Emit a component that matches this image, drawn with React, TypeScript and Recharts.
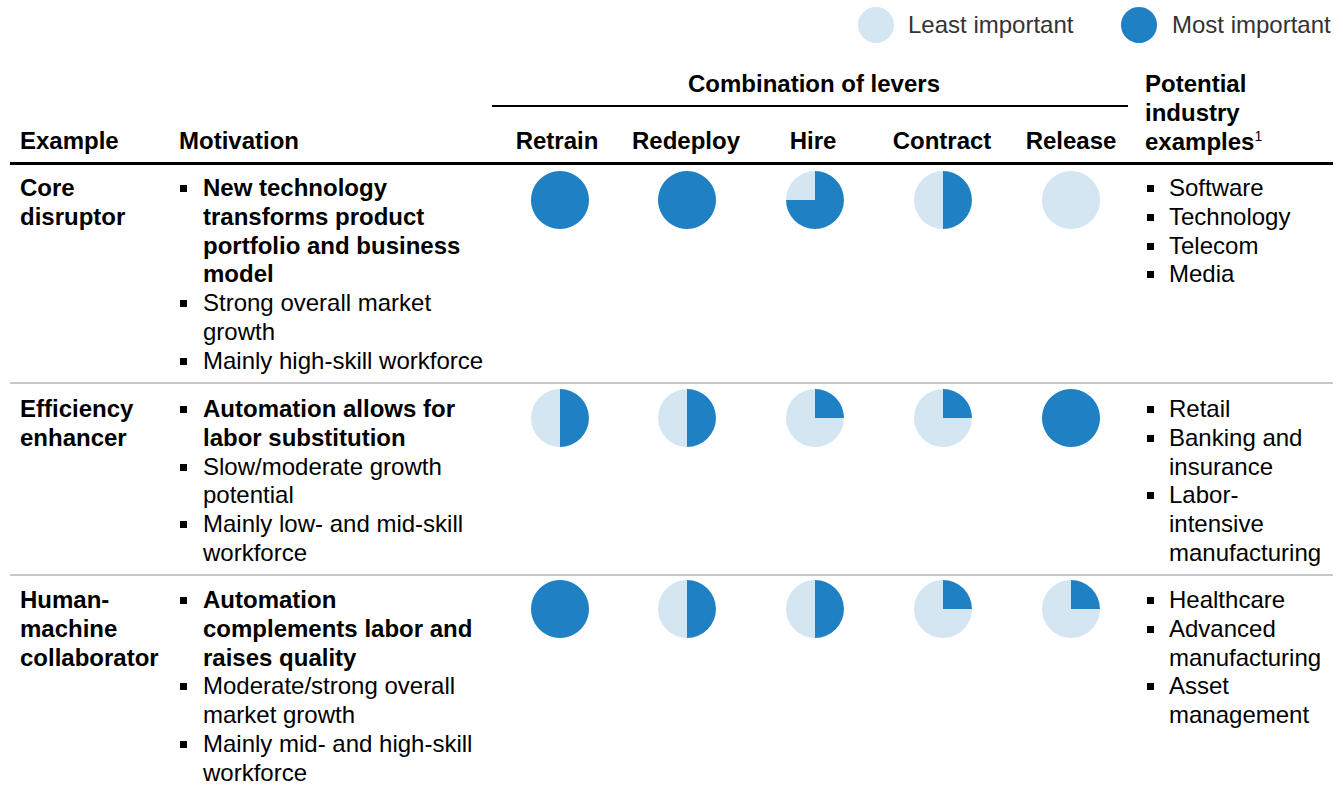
import React from 'react';
import { PieChart, Pie, Cell } from 'recharts';

// Lever columns and the importance of each lever per example (0 = least, 1 = most)
const levers = ['Retrain', 'Redeploy', 'Hire', 'Contract', 'Release'];
const leverX = [560, 687, 815, 943, 1071];
const headerX = [557, 686, 813, 942, 1071];

const examples = [
    ['Core', 'disruptor'],
    ['Efficiency', 'enhancer'],
    ['Human-', 'machine', 'collaborator'],
];

const importance = [
    [1, 1, 0.75, 0.5, 0],
    [0.5, 0.5, 0.25, 0.25, 1],
    [1, 0.5, 0.5, 0.25, 0.25],
];

const motivations = [
    [
        { bold: true, lines: ['New technology', 'transforms product', 'portfolio and business', 'model'] },
        { bold: false, lines: ['Strong overall market', 'growth'] },
        { bold: false, lines: ['Mainly high-skill workforce'] },
    ],
    [
        { bold: true, lines: ['Automation allows for', 'labor substitution'] },
        { bold: false, lines: ['Slow/moderate growth', 'potential'] },
        { bold: false, lines: ['Mainly low- and mid-skill', 'workforce'] },
    ],
    [
        { bold: true, lines: ['Automation', 'complements labor and', 'raises quality'] },
        { bold: false, lines: ['Moderate/strong overall', 'market growth'] },
        { bold: false, lines: ['Mainly mid- and high-skill', 'workforce'] },
    ],
];

const industries = [
    [['Software'], ['Technology'], ['Telecom'], ['Media']],
    [['Retail'], ['Banking and', 'insurance'], ['Labor-', 'intensive', 'manufacturing']],
    [['Healthcare'], ['Advanced', 'manufacturing'], ['Asset', 'management']],
];

const rowTop = [174, 395, 586];
const ballY = [200, 418, 609];

const DARK = '#1F80C4';
const LIGHT = '#D4E6F2';
const LH = 28.8;

function Harvey({ value, cx, cy, r }: { value: number; cx: number; cy: number; r: number }) {
    const size = r * 2 + 4;
    const data = [
        { name: 'filled', v: value },
        { name: 'rest', v: 1 - value },
    ];
    return (
        <div style={{ position: 'absolute', left: cx - size / 2, top: cy - size / 2 }}>
            <PieChart width={size} height={size} margin={{ top: 0, right: 0, bottom: 0, left: 0 }}>
                <Pie
                    data={data}
                    dataKey="v"
                    cx="50%"
                    cy="50%"
                    outerRadius={r}
                    startAngle={90}
                    endAngle={-270}
                    stroke="none"
                    isAnimationActive={false}
                >
                    {data.map((d, i) => (
                        <Cell key={d.name} fill={i === 0 ? DARK : LIGHT} stroke="none" />
                    ))}
                </Pie>
            </PieChart>
        </div>
    );
}

function Lines({ lines, bold }: { lines: string[]; bold?: boolean }) {
    return (
        <>
            {lines.map((l, i) => (
                <div key={i} style={{ height: LH, lineHeight: `${LH}px`, whiteSpace: 'nowrap', fontWeight: bold ? 700 : 400 }}>
                    {l}
                </div>
            ))}
        </>
    );
}

function Bullets({ items, left, indent }: { items: { bold: boolean; lines: string[] }[]; left: number; indent: number }) {
    return (
        <div>
            {items.map((it, i) => (
                <div key={i} style={{ position: 'relative', paddingLeft: indent }}>
                    <div style={{ position: 'absolute', left, top: 11, width: 7, height: 7, background: '#000' }} />
                    <Lines lines={it.lines} bold={it.bold} />
                </div>
            ))}
        </div>
    );
}

export default function App() {
    return (
        <div
            style={{
                position: 'absolute',
                left: 0,
                top: 0,
                width: 1343,
                height: 790,
                background: '#fff',
                fontFamily: 'Arial, "Liberation Sans", sans-serif',
                fontSize: 24,
                color: '#000',
                overflow: 'hidden',
            }}
        >
            {/* Legend */}
            <Harvey value={0} cx={876} cy={25} r={18} />
            <div style={{ position: 'absolute', left: 908, top: 25 - LH / 2, lineHeight: `${LH}px`, color: '#333' }}>
                Least important
            </div>
            <Harvey value={1} cx={1139} cy={25} r={18} />
            <div style={{ position: 'absolute', left: 1172, top: 25 - LH / 2, lineHeight: `${LH}px`, color: '#333' }}>
                Most important
            </div>

            {/* Header */}
            <div style={{ position: 'absolute', left: 492, width: 644, top: 70, textAlign: 'center', fontWeight: 700, lineHeight: `${LH}px` }}>
                Combination of levers
            </div>
            <div style={{ position: 'absolute', left: 492, top: 105, width: 636, height: 2, background: '#000' }} />
            <div style={{ position: 'absolute', left: 1145, top: 70, fontWeight: 700 }}>
                <Lines lines={['Potential', 'industry']} bold />
                <div style={{ height: LH, lineHeight: `${LH}px`, whiteSpace: 'nowrap', fontWeight: 700 }}>
                    examples
                    <span style={{ fontSize: 14, fontWeight: 400, position: 'relative', top: -9, lineHeight: 0 }}>1</span>
                </div>
            </div>
            <div style={{ position: 'absolute', left: 20, top: 127, fontWeight: 700, lineHeight: `${LH}px` }}>Example</div>
            <div style={{ position: 'absolute', left: 179, top: 127, fontWeight: 700, lineHeight: `${LH}px` }}>Motivation</div>
            {levers.map((lv, i) => (
                <div
                    key={lv}
                    style={{ position: 'absolute', left: headerX[i] - 70, width: 140, top: 127, textAlign: 'center', fontWeight: 700, lineHeight: `${LH}px` }}
                >
                    {lv}
                </div>
            ))}
            <div style={{ position: 'absolute', left: 10, top: 162, width: 1323, height: 3, background: '#000' }} />

            {/* Row separators */}
            <div style={{ position: 'absolute', left: 10, top: 382, width: 1323, height: 2, background: '#C8C8C8' }} />
            <div style={{ position: 'absolute', left: 10, top: 574, width: 1323, height: 2, background: '#C8C8C8' }} />

            {/* Rows */}
            {examples.map((ex, r) => (
                <React.Fragment key={r}>
                    <div style={{ position: 'absolute', left: 20, top: rowTop[r] }}>
                        <Lines lines={ex} bold />
                    </div>
                    <div style={{ position: 'absolute', left: 179, top: rowTop[r] }}>
                        <Bullets items={motivations[r]} left={1} indent={24} />
                    </div>
                    {importance[r].map((v, c) => (
                        <Harvey key={c} value={v} cx={leverX[c]} cy={ballY[r]} r={29} />
                    ))}
                    <div style={{ position: 'absolute', left: 1145, top: rowTop[r] }}>
                        <Bullets items={industries[r].map((lines) => ({ bold: false, lines }))} left={2} indent={24} />
                    </div>
                </React.Fragment>
            ))}
        </div>
    );
}
